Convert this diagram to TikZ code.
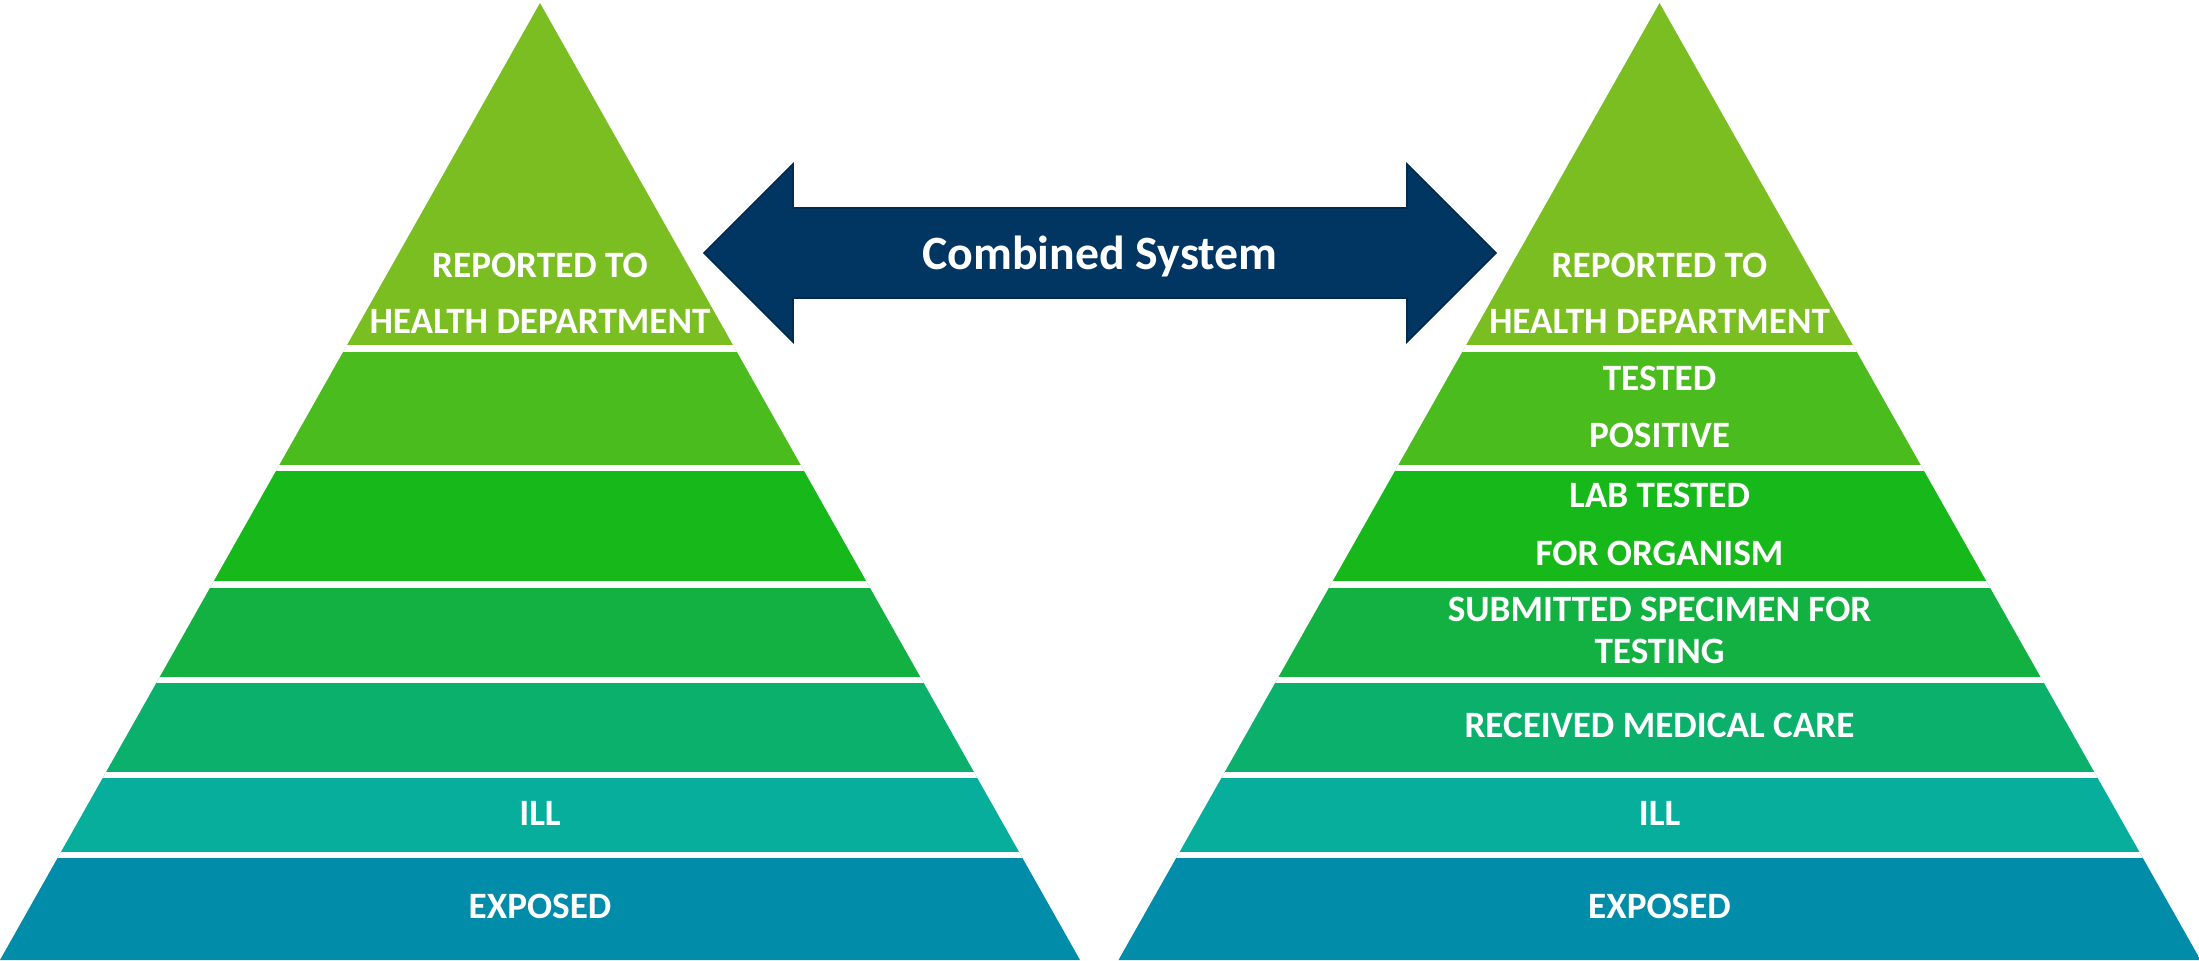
\documentclass[tikz,border=0pt]{standalone}
\usepackage{fontspec}
\setmainfont{Carlito}
\begin{document}
\definecolor{lvA}{HTML}{7BBE22}
\definecolor{lvB}{HTML}{4ABC1E}
\definecolor{lvC}{HTML}{16B81A}
\definecolor{lvD}{HTML}{12B142}
\definecolor{lvE}{HTML}{0BB06C}
\definecolor{lvF}{HTML}{06AE9B}
\definecolor{lvG}{HTML}{018CAA}
\definecolor{navy}{HTML}{013662}
\begin{tikzpicture}[x=0.5pt,y=-0.5pt,
  lbl/.style={text=white,font=\fontsize{18.6}{22}\selectfont\bfseries,inner sep=0pt,anchor=base},
  gap/.style={white,line width=3.2},
  bigarrow/.style={fill=navy,draw=navy!80!black,line width=0.8}]
\useasboundingbox (0,0) rectangle (2199,961);
% left pyramid, bands from top to bottom
\begin{scope}
  \clip (0,960) -- (540,3) -- (1080,960) -- cycle;
  \fill[lvA] (0,0) rectangle (1080,348.5);
  \fill[lvB] (0,348.5) rectangle (1080,468);
  \fill[lvC] (0,468) rectangle (1080,584.5);
  \fill[lvD] (0,584.5) rectangle (1080,680);
  \fill[lvE] (0,680) rectangle (1080,775);
  \fill[lvF] (0,775) rectangle (1080,855);
  \fill[lvG] (0,855) rectangle (1080,961);
  \foreach \yy in {348.5,468,584.5,680,775,855}
    \draw[gap] (0,\yy) -- (1080,\yy);
\end{scope}
% right pyramid
\begin{scope}
  \clip (1118.5,960) -- (1659.5,3) -- (2200.5,960) -- cycle;
  \fill[lvA] (1110,0) rectangle (2200,348.5);
  \fill[lvB] (1110,348.5) rectangle (2200,468);
  \fill[lvC] (1110,468) rectangle (2200,584.5);
  \fill[lvD] (1110,584.5) rectangle (2200,680);
  \fill[lvE] (1110,680) rectangle (2200,775);
  \fill[lvF] (1110,775) rectangle (2200,855);
  \fill[lvG] (1110,855) rectangle (2200,961);
  \foreach \yy in {348.5,468,584.5,680,775,855}
    \draw[gap] (1110,\yy) -- (2200,\yy);
\end{scope}
% double-headed arrow
\draw[bigarrow] (704,253) -- (793,164) -- (793,208) -- (1407,208) -- (1407,164)
  -- (1496,253) -- (1407,342) -- (1407,298) -- (793,298) -- (793,342) -- cycle;
\node[text=white,font=\fontsize{23.9}{28}\selectfont\bfseries,inner sep=0pt,anchor=base]
  (combined) at (1100,270) {Combined System};
% left labels
\node[lbl] (lrep1) at (540,278) {REPORTED TO};
\node[lbl] (lrep2) at (540,334) {HEALTH DEPARTMENT};
\node[lbl] (lill) at (540,825.5) {ILL};
\node[lbl] (lexp) at (540,918) {EXPOSED};
% right labels
\node[lbl] (rrep1) at (1659.5,278) {REPORTED TO};
\node[lbl] (rrep2) at (1659.5,334) {HEALTH DEPARTMENT};
\node[lbl] (rtest1) at (1659.5,391) {TESTED};
\node[lbl] (rtest2) at (1659.5,448) {POSITIVE};
\node[lbl] (rlab1) at (1659.5,508) {LAB TESTED};
\node[lbl] (rlab2) at (1659.5,566) {FOR ORGANISM};
\node[lbl] (rsub1) at (1659.5,622) {SUBMITTED SPECIMEN FOR};
\node[lbl] (rsub2) at (1659.5,663) {TESTING};
\node[lbl] (rmed) at (1659.5,737) {RECEIVED MEDICAL CARE};
\node[lbl] (rill) at (1659.5,825.5) {ILL};
\node[lbl] (rexp) at (1659.5,918) {EXPOSED};
\end{tikzpicture}
\end{document}
